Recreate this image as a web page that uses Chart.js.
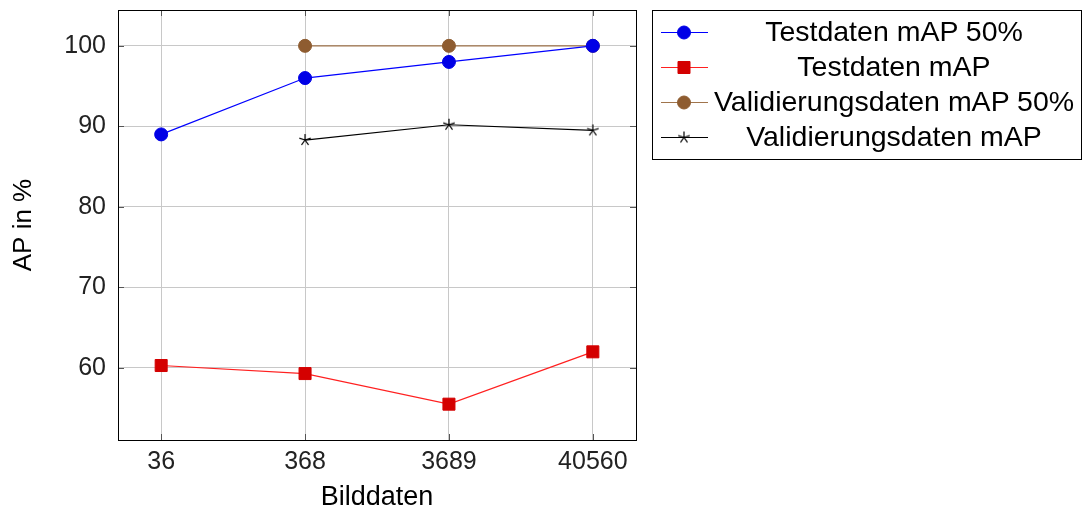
<!DOCTYPE html>
<html lang="de">
<head>
    <meta charset="UTF-8">
    <title>AP in %</title>
    <script src="https://cdn.jsdelivr.net/npm/chart.js"></script>
    <style>
        html, body { margin: 0; padding: 0; background: #fff; }
        #wrap { position: relative; width: 1084px; height: 514px; }
        #legend {
            position: absolute; left: 652px; top: 10px; width: 428px; height: 148px;
            border: 1px solid #000; box-sizing: content-box;
            font-family: "Liberation Sans", Arial, sans-serif; font-size: 28.5px; color: #000;
        }
        .row { position: absolute; left: 0; width: 428px; height: 35px; }
        .row canvas { position: absolute; left: 6px; top: 0; }
        .row span { position: absolute; left: 56px; right: 2px; top: -1px; line-height: 35px; text-align: center; white-space: nowrap; }
    </style>
</head>
<body>
<div id="wrap">
    <canvas id="apChart" width="1084" height="514"></canvas>
    <div id="legend"></div>
</div>
<script>
    // Bilddaten (x categories)
    const bilddaten = ["36", "368", "3689", "40560"];
    const yTicks = [60, 70, 80, 90, 100];

    const testMap50 = [89, 96, 98, 100];
    const testMap = [60.3, 59.3, 55.5, 62];
    const valMap50 = [null, 100, 100, 100];
    const valMap = [null, 88.3, 90.2, 89.5];

    const seriesNames = ["Testdaten mAP 50%", "Testdaten mAP", "Validierungsdaten mAP 50%", "Validierungsdaten mAP"];

    function toPoints(values) {
        return values.map((v, i) => ({ x: i, y: v }))
    }

    // 5 armed star marker like pgfplots "star"
    function makeStar(r) {
        const c = document.createElement("canvas");
        c.width = 2 * r + 4; c.height = 2 * r + 4;
        const ctx = c.getContext("2d");
        const cx = c.width / 2, cy = c.height / 2;
        ctx.strokeStyle = "#000";
        ctx.lineWidth = 1.2;
        ctx.beginPath();
        for (let k = 0; k < 5; k++) {
            const a = -Math.PI / 2 + k * 2 * Math.PI / 5;
            ctx.moveTo(cx, cy);
            ctx.lineTo(cx + r * Math.cos(a), cy + r * Math.sin(a));
        }
        ctx.stroke();
        return c;
    }
    const starImg = makeStar(6);

    const styles = [
        { line: "#0000ff", fill: "#0000e6", border: "#0000e6", pointStyle: "circle", radius: 6.5 },
        { line: "#ff2020", fill: "#d40000", border: "#d40000", pointStyle: "rect", radius: 8.5 },
        { line: "#a0744c", fill: "#8e5c30", border: "#8e5c30", pointStyle: "circle", radius: 6.5 },
        { line: "#000000", fill: "#000000", border: "#000000", pointStyle: starImg, radius: 6 }
    ];
    const allData = [testMap50, testMap, valMap50, valMap];

    const datasets = allData.map((d, i) => ({
        label: seriesNames[i],
        data: toPoints(d),
        borderColor: styles[i].line,
        borderWidth: 1.2,
        backgroundColor: styles[i].fill,
        pointBackgroundColor: styles[i].fill,
        pointBorderColor: styles[i].border,
        pointBorderWidth: 1,
        pointStyle: styles[i].pointStyle,
        pointRadius: styles[i].radius,
        pointHoverRadius: styles[i].radius,
        spanGaps: false,
        tension: 0
    }));

    // short inner tick marks like pgfplots
    const innerTicks = {
        id: "innerTicks",
        afterDraw(chart) {
            const { ctx, chartArea: a, scales } = chart;
            ctx.save();
            ctx.strokeStyle = "#555";
            ctx.lineWidth = 1;
            ctx.beginPath();
            yTicks.forEach(t => {
                const y = Math.round(scales.y.getPixelForValue(t)) + 0.5;
                ctx.moveTo(a.left, y); ctx.lineTo(a.left + 6, y);
                ctx.moveTo(a.right, y); ctx.lineTo(a.right - 6, y);
            });
            bilddaten.forEach((c, i) => {
                const x = Math.round(scales.x.getPixelForValue(i)) + 0.5;
                ctx.moveTo(x, a.bottom); ctx.lineTo(x, a.bottom - 6);
                ctx.moveTo(x, a.top); ctx.lineTo(x, a.top + 6);
            });
            ctx.stroke();
            ctx.strokeStyle = "#000";
            ctx.strokeRect(Math.round(a.left) + 0.5, Math.round(a.top) + 0.5, Math.round(a.right - a.left), Math.round(a.bottom - a.top));
            ctx.restore();
        }
    };

    const font = "'Liberation Sans', Arial, sans-serif";

    const apChart = new Chart(document.getElementById("apChart"), {
        type: "line",
        data: { datasets: datasets },
        options: {
            responsive: false,
            animation: false,
            devicePixelRatio: 1,
            layout: { autoPadding: false, padding: { top: 10, right: 448, left: 0, bottom: 0 } },
            plugins: { legend: { display: false }, tooltip: { enabled: false } },
            scales: {
                x: {
                    type: "linear",
                    min: -0.3,
                    max: 3.3,
                    afterBuildTicks: s => { s.ticks = bilddaten.map((c, i) => ({ value: i })) },
                    afterFit: s => { s.height = 74; s.paddingLeft = 0; s.paddingRight = 0 },
                    ticks: {
                        callback: v => bilddaten[v],
                        font: { family: font, size: 25 },
                        color: "#222",
                        padding: 7,
                        maxRotation: 0
                    },
                    grid: { color: "#c8c8c8", drawTicks: false },
                    border: { display: false },
                    title: { display: true, text: "Bilddaten", font: { family: font, size: 27 }, color: "#000", padding: { top: 2, bottom: 0 } }
                },
                y: {
                    min: 51.05,
                    max: 104.45,
                    afterBuildTicks: s => { s.ticks = yTicks.map(v => ({ value: v })) },
                    afterFit: s => { s.width = 118; s.paddingTop = 0; s.paddingBottom = 0 },
                    ticks: {
                        font: { family: font, size: 25 },
                        color: "#222",
                        padding: 12
                    },
                    grid: { color: "#c8c8c8", drawTicks: false },
                    border: { display: false },
                    title: { display: true, text: "AP in %", font: { family: font, size: 26 }, color: "#000", padding: { top: 8, bottom: 4 } }
                }
            }
        },
        plugins: [innerTicks]
    });

    // legend (pgfplots style, outside to the right)
    const legend = document.getElementById("legend");
    const rowTops = [4, 39, 74, 109];
    seriesNames.forEach((name, i) => {
        const row = document.createElement("div");
        row.className = "row";
        row.style.top = rowTops[i] + "px";
        const c = document.createElement("canvas");
        c.width = 50; c.height = 35;
        const ctx = c.getContext("2d");
        ctx.strokeStyle = styles[i].line;
        ctx.lineWidth = 1.2;
        ctx.beginPath(); ctx.moveTo(2, 17.5); ctx.lineTo(49, 17.5); ctx.stroke();
        ctx.fillStyle = styles[i].fill;
        ctx.strokeStyle = styles[i].border;
        ctx.lineWidth = 1;
        Chart.helpers.drawPoint(ctx, { pointStyle: styles[i].pointStyle, radius: styles[i].radius, borderWidth: 1, rotation: 0 }, 25, 17.5);
        const span = document.createElement("span");
        span.textContent = name;
        row.appendChild(c);
        row.appendChild(span);
        legend.appendChild(row);
    });
</script>
</body>
</html>
